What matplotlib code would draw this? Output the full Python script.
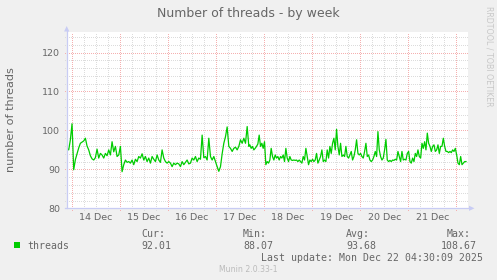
import matplotlib
matplotlib.use('Agg')
import matplotlib.pyplot as plt
import pandas as pd
from matplotlib.lines import Line2D
from matplotlib.patches import Polygon, Rectangle

# ---------------- data ----------------
title = "Number of threads - by week"
ylabel = "number of threads"
series_name = "threads"

# readings every 50 min from Dec 13 21:31
start1 = "2025-12-13 21:31"
values1 = [95.4, 95.0, 97.6, 101.7, 89.9, 92.5, 94.0, 95.5, 96.7, 97.0,
           97.3, 98.0, 96.0, 95.0, 93.5, 92.7, 92.4, 93.0, 95.2, 92.9,
           94.1, 93.7, 92.9, 94.1, 93.5, 95.0, 93.7, 97.1, 94.5, 95.9,
           93.3, 93.7, 95.9, 89.4, 91.2, 92.4, 91.8, 92.0, 91.6, 92.4,
           91.2, 92.6, 92.0, 93.3, 92.9, 94.0, 92.4, 93.3, 92.0, 92.9,
           91.6, 93.3, 92.6, 92.0, 93.7, 92.4, 91.8, 95.0, 92.9, 92.0,
           91.6, 92.0, 91.6, 90.7, 91.6, 91.2, 91.6, 91.4, 90.7, 92.0,
           91.2, 91.8, 92.4, 91.4, 91.6, 92.9, 92.4, 93.3, 92.0, 92.9,
           92.6, 98.8, 93.0, 93.3, 92.4, 98.0, 93.3, 92.4, 93.3, 92.0,
           90.7, 89.5, 90.7, 94.0, 96.7, 98.4, 100.9, 95.9, 95.4, 94.6,
           95.4, 95.7, 95.0, 95.9, 97.6, 96.7, 98.0, 96.7, 101.0, 95.9]

# readings every 40 min from Dec 17 16:51
start2 = "2025-12-17 16:51"
values2 = [96.3, 95.4, 95.9, 95.0, 95.4, 95.9, 96.5, 98.8, 95.9, 96.7, 95.4, 97.1, 91.2,
           92.0, 91.6, 92.4, 95.4, 93.3, 92.4, 93.7, 92.9, 93.3, 92.4,
           93.3, 92.9, 93.7, 92.0, 95.4, 92.9, 92.0, 93.3, 92.4, 92.3,
           92.4, 92.3, 92.4, 92.0, 92.4, 92.0, 91.6, 93.3, 92.4, 95.4,
           93.3, 91.2, 92.4, 92.0, 92.6, 92.0, 92.4, 94.1, 91.6, 92.4,
           93.3, 95.0, 92.0, 92.4, 92.0, 95.0, 92.9, 95.9, 94.1, 96.7,
           98.0, 95.0, 100.3, 95.9, 93.7, 96.7, 93.3, 93.7, 93.3, 95.9,
           93.3, 92.9, 93.7, 94.6, 92.4, 93.3, 95.0, 97.6, 94.1, 93.7,
           94.1, 93.3, 92.9, 94.6, 96.7, 93.3, 93.7, 92.4, 92.0, 92.4,
           93.3, 94.6, 93.3, 99.7, 95.0, 93.3, 92.4, 92.9, 95.0, 97.7,
           92.4, 92.0, 92.3, 92.0, 92.4, 92.3, 92.6, 92.4, 94.6, 93.3,
           92.0, 94.6, 92.4, 92.6, 92.4, 94.1, 94.6, 92.0, 91.6, 92.9,
           92.0, 94.1, 93.3, 95.0, 93.3, 92.9, 96.7, 95.4, 97.1, 95.0,
           99.3, 96.7, 95.9, 94.6, 95.9, 96.3, 94.6, 95.0, 96.3, 94.1,
           95.9, 95.9, 98.0, 95.9, 94.6, 94.6, 94.3, 94.6, 94.3, 95.0,
           94.6, 95.4, 93.7, 91.6, 91.2, 93.3, 91.2, 91.6, 92.0, 92.0]

x_start = "2025-12-13 21:21"
x_end = "2025-12-22 06:00"
y_ticks = [80, 90, 100, 110, 120]
y_max = 125.2

stat_labels = ["Cur:", "Min:", "Avg:", "Max:"]
stat_values = ["92.01", "88.07", "93.68", "108.67"]
last_update = "Last update: Mon Dec 22 04:30:09 2025"
version = "Munin 2.0.33-1"
watermark = "RRDTOOL / TOBI OETIKER"

# ---------------- styling ----------------
W, H = 497, 280
BG = '#F0F0F0'
FONT_C = '#666666'
AXIS_C = '#C8CCF4'
MGRID_C = '#F5B0B0'
GRID_C = '#DCDCDC'
LINE_C = '#00CC00'

fig = plt.figure(figsize=(W / 100, H / 100), dpi=100, facecolor=BG)

def fx(px):
    return px / W

def fy(py):
    return 1 - py / H

AX_L, AX_R, AX_T, AX_B = 66.7, 468.3, 32.3, 208.3
ax = fig.add_axes([fx(AX_L), fy(AX_B), fx(AX_R) - fx(AX_L), fy(AX_T) - fy(AX_B)])
ax.set_facecolor('white')
for s in ax.spines.values():
    s.set_visible(False)

t1 = pd.date_range(start1, periods=len(values1), freq='50min')
t2 = pd.date_range(start2, periods=len(values2), freq='40min')
times = t1.append(t2)
values = values1 + values2

ax.set_xlim(pd.Timestamp(x_start), pd.Timestamp(x_end))
ax.set_ylim(y_ticks[0], y_max)

axw = AX_R - AX_L
axh = AX_B - AX_T
ext_y = 2.0 / axh
ext_x = 2.0 / axw
dots = (0, (1, 2))

# vertical grid
x0, x1 = pd.Timestamp(x_start), pd.Timestamp(x_end)
for d in pd.date_range(x0.ceil('6h'), x1, freq='6h'):
    if d >= x1:
        continue
    major = (d.hour == 0)
    ax.axvline(d, ymin=-ext_y, ymax=1, color=MGRID_C if major else GRID_C,
               lw=0.72, linestyle=dots, clip_on=False, antialiased=False,
               zorder=2 if major else 1)
# horizontal grid
for v in range(y_ticks[0] + 2, int(y_max) + 1, 2):
    major = (v % 10 == 0)
    ax.axhline(v, xmin=-ext_x, xmax=1, color=MGRID_C if major else GRID_C,
               lw=0.72, linestyle=dots, clip_on=False, antialiased=False,
               zorder=2 if major else 1)

ax.plot(times, values, color=LINE_C, lw=0.9, zorder=5)

# ticks
ax.set_yticks(y_ticks)
ax.set_yticklabels([str(v) for v in y_ticks])
noons = pd.date_range(x0.ceil('D') + pd.Timedelta('12h'), x1, freq='D')
ax.set_xticks(noons)
ax.set_xticklabels([d.strftime('%d %b') for d in noons])
ax.tick_params(axis='both', length=0, labelsize=6.8, labelcolor=FONT_C)
ax.tick_params(axis='y', pad=4.6)
ax.tick_params(axis='x', pad=3.2)

# axis lines with arrows
fig.add_artist(Line2D([fx(AX_L), fx(AX_L)], [fy(AX_B), fy(29.5)], color=AXIS_C, lw=0.9,
                      transform=fig.transFigure))
fig.add_artist(Line2D([fx(AX_L - 2), fx(470.5)], [fy(AX_B), fy(AX_B)], color=AXIS_C, lw=0.9,
                      transform=fig.transFigure))
fig.add_artist(Polygon([[fx(AX_L - 2.6), fy(31.5)], [fx(AX_L + 2.6), fy(31.5)], [fx(AX_L), fy(26.0)]],
                       closed=True, color=AXIS_C, transform=fig.transFigure, lw=0))
fig.add_artist(Polygon([[fx(469.0), fy(AX_B - 2.6)], [fx(469.0), fy(AX_B + 2.6)], [fx(474.5), fy(AX_B)]],
                       closed=True, color=AXIS_C, transform=fig.transFigure, lw=0))

# texts
fig.text(fx(248.5), fy(17.0), title, ha='center', va='baseline', fontsize=9.0, color=FONT_C)
fig.text(fx(11.0), fy(119.5), ylabel, rotation=90, ha='center', va='center', fontsize=8.1, color=FONT_C)
fig.text(fx(489.0), fy(56.0), watermark, rotation=270, ha='center', va='center', fontsize=5.7, color='#C8C8C8')

mono = 'DejaVu Sans Mono'
fig.add_artist(Rectangle((fx(14), fy(247.5)), 5.5 / W, 5.5 / H, transform=fig.transFigure,
                         facecolor=LINE_C, edgecolor='none'))
fig.text(fx(27), fy(248.7), series_name, ha='left', va='baseline', fontsize=7.1, family=mono, color=FONT_C)
label_x = [141, 243, 346, 447]
value_x = [141, 243, 346, 441]
for lab, val, lx, vx in zip(stat_labels, stat_values, label_x, value_x):
    fig.text(fx(lx), fy(236.7), lab, ha='left', va='baseline', fontsize=7.1, family=mono, color=FONT_C)
    fig.text(fx(vx), fy(248.7), val, ha='left', va='baseline', fontsize=7.1, family=mono, color=FONT_C)
fig.text(fx(261), fy(260.9), last_update, ha='left', va='baseline', fontsize=7.1, family=mono, color=FONT_C)
fig.text(fx(248.7), fy(272.4), version, ha='center', va='baseline', fontsize=5.6, color='#BBBBBB')

fig.savefig('out.png', dpi=100, facecolor=BG)
